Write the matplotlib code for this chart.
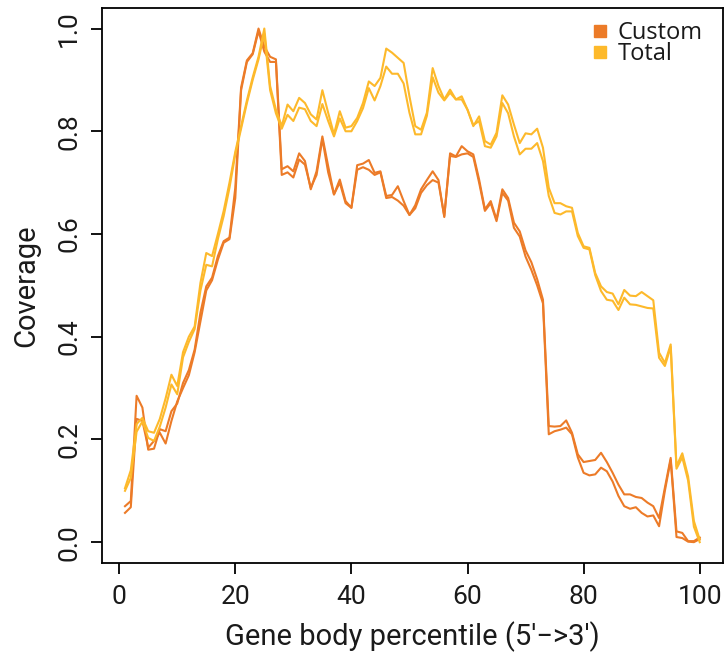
import matplotlib
matplotlib.use("Agg")
import matplotlib.pyplot as plt
from matplotlib.lines import Line2D

# Gene body coverage, percentiles 1..100, two replicates per library
percentile = list(range(1, 101))

custom_rep1 = [
    0.070, 0.080, 0.285, 0.262, 0.180, 0.182, 0.220, 0.216, 0.255, 0.270,
    0.310, 0.335, 0.375, 0.447, 0.498, 0.515, 0.557, 0.586, 0.593, 0.690,
    0.885, 0.938, 0.952, 1.000, 0.965, 0.945, 0.940, 0.726, 0.732, 0.722,
    0.757, 0.742, 0.687, 0.722, 0.790, 0.732, 0.677, 0.706, 0.664, 0.651,
    0.734, 0.737, 0.744, 0.719, 0.722, 0.674, 0.676, 0.693, 0.664, 0.637,
    0.656, 0.687, 0.705, 0.722, 0.705, 0.633, 0.757, 0.751, 0.771, 0.761,
    0.755, 0.706, 0.648, 0.664, 0.628, 0.687, 0.670, 0.622, 0.605, 0.568,
    0.545, 0.512, 0.472, 0.226, 0.225, 0.226, 0.237, 0.213, 0.171, 0.156,
    0.158, 0.160, 0.174, 0.156, 0.135, 0.112, 0.093, 0.093, 0.088, 0.086,
    0.077, 0.070, 0.047, 0.106, 0.164, 0.021, 0.018, 0.002, 0.002, 0.009,
]
custom_rep2 = [
    0.057, 0.068, 0.240, 0.236, 0.184, 0.197, 0.213, 0.192, 0.236, 0.274,
    0.300, 0.325, 0.370, 0.430, 0.490, 0.510, 0.550, 0.583, 0.590, 0.670,
    0.880, 0.935, 0.950, 0.995, 0.955, 0.935, 0.935, 0.715, 0.720, 0.710,
    0.745, 0.735, 0.690, 0.715, 0.785, 0.720, 0.677, 0.700, 0.660, 0.651,
    0.725, 0.730, 0.725, 0.715, 0.720, 0.670, 0.672, 0.665, 0.655, 0.637,
    0.650, 0.680, 0.695, 0.705, 0.700, 0.635, 0.752, 0.750, 0.755, 0.757,
    0.750, 0.700, 0.645, 0.660, 0.625, 0.680, 0.665, 0.612, 0.595, 0.556,
    0.530, 0.500, 0.465, 0.210, 0.216, 0.219, 0.223, 0.210, 0.165, 0.135,
    0.130, 0.132, 0.145, 0.138, 0.118, 0.090, 0.070, 0.065, 0.068, 0.057,
    0.050, 0.052, 0.031, 0.100, 0.160, 0.010, 0.008, 0.001, 0.000, 0.006,
]
total_rep1 = [
    0.105, 0.140, 0.230, 0.242, 0.216, 0.213, 0.240, 0.280, 0.326, 0.304,
    0.370, 0.400, 0.420, 0.505, 0.563, 0.557, 0.600, 0.645, 0.700, 0.760,
    0.810, 0.860, 0.905, 0.945, 1.000, 0.888, 0.842, 0.810, 0.852, 0.839,
    0.865, 0.855, 0.833, 0.823, 0.880, 0.836, 0.794, 0.839, 0.807, 0.810,
    0.826, 0.855, 0.897, 0.888, 0.904, 0.961, 0.953, 0.943, 0.933, 0.868,
    0.810, 0.803, 0.836, 0.923, 0.888, 0.862, 0.881, 0.862, 0.868, 0.842,
    0.810, 0.829, 0.781, 0.774, 0.797, 0.870, 0.852, 0.813, 0.777, 0.796,
    0.794, 0.805, 0.768, 0.690, 0.660, 0.660, 0.654, 0.651, 0.602, 0.576,
    0.573, 0.524, 0.498, 0.487, 0.484, 0.463, 0.491, 0.480, 0.479, 0.487,
    0.479, 0.471, 0.369, 0.349, 0.385, 0.148, 0.173, 0.128, 0.041, 0.005,
]
total_rep2 = [
    0.100, 0.125, 0.215, 0.235, 0.203, 0.197, 0.225, 0.262, 0.307, 0.288,
    0.360, 0.390, 0.415, 0.490, 0.540, 0.537, 0.590, 0.635, 0.690, 0.755,
    0.805, 0.855, 0.900, 0.940, 0.990, 0.880, 0.835, 0.805, 0.832, 0.820,
    0.846, 0.843, 0.820, 0.810, 0.853, 0.820, 0.790, 0.825, 0.800, 0.800,
    0.820, 0.845, 0.884, 0.860, 0.888, 0.926, 0.912, 0.912, 0.893, 0.836,
    0.794, 0.794, 0.830, 0.905, 0.875, 0.860, 0.875, 0.862, 0.862, 0.842,
    0.812, 0.820, 0.771, 0.768, 0.790, 0.855, 0.835, 0.790, 0.755, 0.766,
    0.766, 0.777, 0.742, 0.674, 0.641, 0.638, 0.644, 0.644, 0.596, 0.573,
    0.570, 0.520, 0.489, 0.472, 0.470, 0.452, 0.476, 0.463, 0.462, 0.459,
    0.456, 0.455, 0.359, 0.343, 0.380, 0.143, 0.165, 0.120, 0.030, 0.000,
]

legend_labels = ["Custom", "Total"]
x_ticks = [0, 20, 40, 60, 80, 100]
y_ticks = [0.0, 0.2, 0.4, 0.6, 0.8, 1.0]

ORANGE = "#EC7B28"
YELLOW = "#FDB92B"
TEXT = "#1a1a1a"

plt.rcParams["font.family"] = ["Roboto", "Liberation Sans", "DejaVu Sans"]

fig = plt.figure(figsize=(7.26, 6.55), dpi=100)
ax = fig.add_axes([102 / 726, 1 - 562.7 / 655, 620.7 / 726, 554.7 / 655])

# custom library first, total drawn over it
for ys in (custom_rep1, custom_rep2):
    ax.plot(percentile, ys, color=ORANGE, lw=1.5)
for ys in (total_rep1, total_rep2):
    ax.plot(percentile, ys, color=YELLOW, lw=1.5)

ax.set_xlim(-2.96, 103.96)
ax.set_ylim(-0.04, 1.04)
ax.set_xticks(x_ticks)
ax.set_xticklabels([str(t) for t in x_ticks])
ax.set_yticks(y_ticks)
ax.set_yticklabels([f"{t:.1f}" for t in y_ticks], rotation=90, va="center")

for sp in ax.spines.values():
    sp.set_linewidth(1.3)
    sp.set_color("black")
ax.tick_params(axis="both", length=8, width=1.3, labelsize=19, color="black",
               labelcolor=TEXT)
ax.tick_params(axis="x", pad=8)
ax.tick_params(axis="y", pad=7)

ax.set_xlabel("Gene body percentile (5'\u2212>3')", fontsize=21, labelpad=9, color=TEXT)
ax.set_ylabel("Coverage", fontsize=21, labelpad=12, color=TEXT)

handles = [
    Line2D([], [], ls="none", marker="s", ms=9, color=ORANGE),
    Line2D([], [], ls="none", marker="s", ms=9, color=YELLOW),
]
ax.legend(handles, legend_labels, loc="upper left",
          bbox_to_anchor=(579 / 726, 1 - 9 / 655), bbox_transform=fig.transFigure,
          frameon=False, handlelength=0.8, handletextpad=0.35, labelspacing=-0.1,
          borderpad=0, labelcolor=TEXT,
          prop={"family": ["Open Sans", "DejaVu Sans"], "size": 17})

fig.savefig("out.png", dpi=100)
